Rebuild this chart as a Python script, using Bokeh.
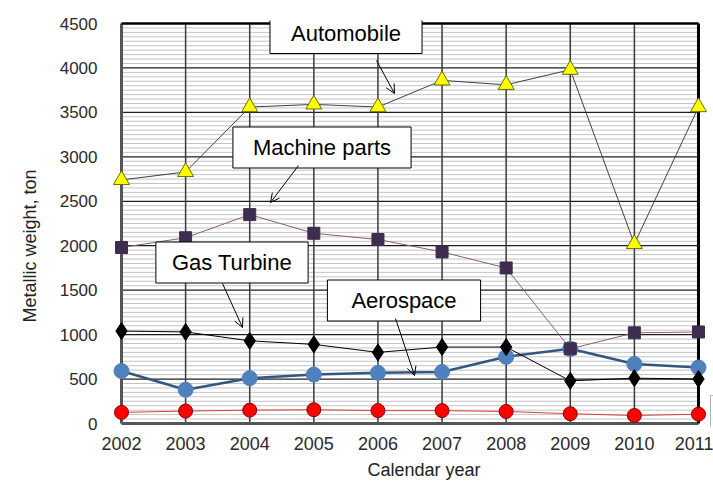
import numpy as np
from bokeh.plotting import figure
from bokeh.models import Range1d, FixedTicker, Label, Arrow, OpenHead, BoxAnnotation, Title
from bokeh.embed import file_html
from bokeh.resources import INLINE

# ---- data ----
years = [2002, 2003, 2004, 2005, 2006, 2007, 2008, 2009, 2010, 2011]
automobile = [2740, 2830, 3560, 3590, 3560, 3860, 3810, 3980, 2020, 3560]
machine_parts = [1980, 2090, 2350, 2140, 2070, 1930, 1750, 840, 1020, 1030]
gas_turbine = [1040, 1030, 930, 890, 800, 860, 860, 480, 510, 500]
aerospace = [590, 380, 510, 550, 570, 580, 750, 840, 670, 630]
others = [125, 140, 150, 155, 145, 145, 135, 110, 90, 105]
y_ticks = [0, 500, 1000, 1500, 2000, 2500, 3000, 3500, 4000, 4500]
y_label = "Metallic weight, ton"
x_label = "Calendar year"

FONT = "Liberation Sans"
x0, x1 = years[0], years[-1]
y0, y1 = y_ticks[0], y_ticks[-1]
px_per_year = 64.11
u_per_px = 11.25

p = figure(width=713, height=488,
           x_range=Range1d(x0 - 15 / px_per_year, x1 + 15 / px_per_year),
           y_range=Range1d(y0 - 3 * u_per_px, y1 + 3 * u_per_px),
           output_backend="svg", toolbar_location=None,
           min_border_left=106, min_border_right=0,
           min_border_top=20, min_border_bottom=62)
p.outline_line_color = None
p.xgrid.visible = False
p.ygrid.visible = False
p.background_fill_color = "white"
p.border_fill_color = "white"

# ---- grid ----
minor = [v for v in np.arange(y0, y1 + 1, 50) if v % 500 != 0]
p.segment(x0=[x0] * len(minor), x1=[x1] * len(minor), y0=minor, y1=minor,
          line_color="#c4c4c4", line_width=1)
major = [v for v in y_ticks if v not in (y0, y1)]
p.segment(x0=[x0] * len(major), x1=[x1] * len(major), y0=major, y1=major,
          line_color="#1e1e1e", line_width=1.2)
inner = years[1:-1]
p.segment(x0=inner, x1=inner, y0=[y0] * len(inner), y1=[y1] * len(inner),
          line_color="#3a3a3a", line_width=1.5)
# frame
p.segment(x0=[x0], x1=[x0], y0=[y0], y1=[y1], line_color="#555555", line_width=3)
p.segment(x0=[x0], x1=[x1], y0=[y0], y1=[y0], line_color="#555555", line_width=3)
p.segment(x0=[x0], x1=[x1], y0=[y1], y1=[y1], line_color="black", line_width=2.5)
p.segment(x0=[x1], x1=[x1], y0=[y0], y1=[y1], line_color="black", line_width=3)

# ---- series ----
p.line(years, others, line_color="#e03a3a", line_width=1)
p.line(years, aerospace, line_color="#34577f", line_width=2.5)
p.line(years, gas_turbine, line_color="black", line_width=1)
p.line(years, machine_parts, line_color="#8b5f6b", line_width=1)
p.line(years, automobile, line_color="#404040", line_width=1)

p.scatter(years, others, marker="circle", size=14, fill_color="#ff0000", line_color="#8b0000", line_width=1)
p.scatter(years, aerospace, marker="circle", size=15, fill_color="#4f81bd", line_color="#4f81bd")
p.scatter(years, gas_turbine, marker="diamond", size=17, fill_color="black", line_color="black")
p.scatter(years, machine_parts, marker="square", size=12, fill_color="#3f2d4f", line_color="#3f2d4f")
p.scatter(years, automobile, marker="triangle", size=16, fill_color="#ffff00", line_color="#6b6b00", line_width=1)

# ---- axes ----
p.yaxis.ticker = FixedTicker(ticks=y_ticks)
p.xaxis.ticker = FixedTicker(ticks=years)
for ax in (p.xaxis, p.yaxis):
    ax.axis_line_color = None
    ax.major_tick_line_color = None
    ax.minor_tick_line_color = None
    ax.major_label_text_font = FONT
    ax.major_label_text_color = "#2a2a2a"
p.yaxis.major_label_text_font_size = "17px"
p.xaxis.major_label_text_font_size = "18px"
p.yaxis.major_label_standoff = 3
p.xaxis.major_label_standoff = 4

# axis titles, offset along the axis like the reference
p.add_layout(Title(text=x_label, align="left", offset=261, vertical_align="bottom",
                   standoff=10, text_font=FONT, text_font_size="18px",
                   text_font_style="normal", text_color="#222222"), "below")
p.add_layout(Title(text=y_label, align="left", offset=104, vertical_align="bottom",
                   standoff=34, text_font=FONT, text_font_size="18px",
                   text_font_style="normal", text_color="#222222"), "left")

def dx(px):
    return x0 + (px - 121) / px_per_year

def dy(py):
    return (423 - py) * u_per_px

# ---- callout boxes ----
callouts = [
    ("Automobile", 345.5, 32.5, 21, 8),
    ("Machine parts", 321.5, 147, 20, 8),
    ("Gas Turbine", 231.5, 262, 16, 8),
    ("Aerospace", 403.5, 300, 24, 8),
]
for txt, cx, cy, hx, hy in callouts:
    p.add_layout(Label(x=dx(cx), y=dy(cy), text=txt, text_font=FONT,
                       text_font_size="22px", text_color="black",
                       text_align="center", text_baseline="middle",
                       background_fill_color="white", border_line_color="black",
                       border_line_width=1, padding=dict(x=hx, y=hy)))

arrows = [
    (376, 60, 394, 93),
    (298, 165, 270, 202),
    (222, 283, 242, 327),
    (395, 318, 414, 375),
]
for ax_, ay_, bx_, by_ in arrows:
    p.add_layout(Arrow(end=OpenHead(size=9, line_width=1, line_color="black"),
                       x_start=dx(ax_), y_start=dy(ay_), x_end=dx(bx_), y_end=dy(by_),
                       line_color="black", line_width=1))

# partly visible box at the right edge
p.add_layout(BoxAnnotation(left=dx(710), right=dx(740), top=dy(395), bottom=dy(435),
                           fill_color="white", fill_alpha=1, line_color="black", line_width=1))

open("out.html", "w").write(file_html(p, INLINE))
